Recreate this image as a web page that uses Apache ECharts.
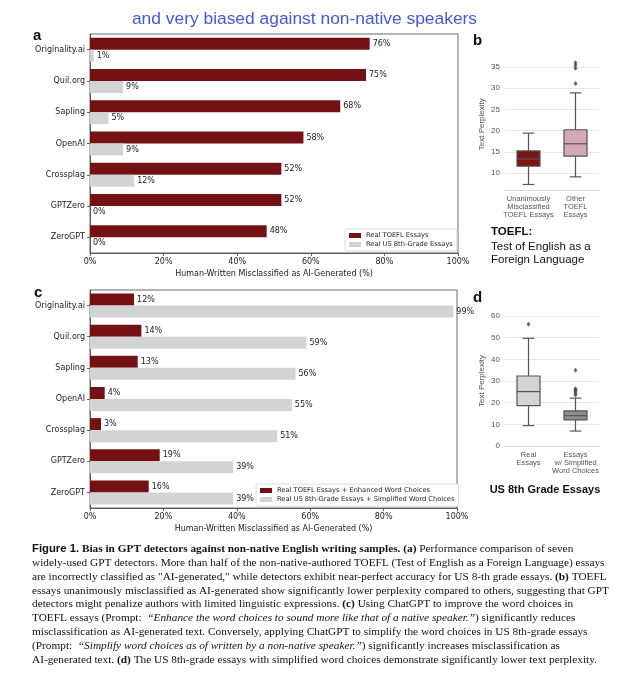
<!DOCTYPE html>
<html><head><meta charset="utf-8">
<script src="https://cdn.jsdelivr.net/npm/echarts@6/dist/echarts.min.js"></script>
<style>html,body{margin:0;padding:0;background:#fff}#c{width:638px;height:680px}</style>
</head><body><div id="c"></div>
<script>
// ---- data ----
const detectors = ['Originality.ai','Quil.org','Sapling','OpenAI','Crossplag','GPTZero','ZeroGPT'];
const aToefl = [76,75,68,58,52,52,48];
const aUS = [1,9,5,9,12,0,0];
const cToefl = [12,14,13,4,3,19,16];
const cUS = [99,59,56,55,51,39,39];

const bCats = ['Unanimously\nMisclassified\nTOEFL Essays','Other\nTOEFL\nEssays'];
// [min, q1, median, q3, max]
const bUnanimous = [7.3,11.6,13.3,15.2,19.4];
const bOther = [9.1,14.0,16.9,20.2,28.9];
const bOutliers = [[1,31.1],[1,34.7],[1,35.4],[1,36.0]];
const bTicks = [10,15,20,25,30,35];

const dCats = ['Real\nEssays','Essays\nw/ Simplified\nWord Choices'];
const dReal = [9.4,18.6,25.1,32.3,49.7];
const dSimplified = [6.9,12.1,14.0,16.2,22.1];
const dOutliers = [[0,56.2],[1,23.5],[1,24.3],[1,25.2],[1,25.9],[1,26.4],[1,35.0]];

const RED = '#731115', GRAY = '#d3d3d3';
const MPL = 'DejaVu Sans';
const SANS = 'Liberation Sans, Arial, sans-serif';

function barXAxis(gi){
  return {gridIndex:gi, type:'value', min:0, max:100, interval:20,
    name:'Human-Written Misclassified as AI-Generated (%)', nameLocation:'middle', nameGap:17,
    nameTextStyle:{fontFamily:MPL, fontSize:8, color:'#222'},
    axisLine:{show:true, lineStyle:{color:'#444', width:0.8}},
    axisTick:{show:true, length:3, lineStyle:{color:'#444', width:0.8}},
    axisLabel:{formatter:'{value}%', fontFamily:MPL, fontSize:8, color:'#222', margin:5},
    splitLine:{show:false}};
}
function barYAxis(gi){
  return {gridIndex:gi, type:'category', data:detectors, inverse:true,
    axisLine:{show:true, lineStyle:{color:'#444', width:0.8}},
    axisTick:{show:true, length:3, alignWithLabel:true, lineStyle:{color:'#444', width:0.8}},
    axisLabel:{fontFamily:MPL, fontSize:8, color:'#222', margin:5}};
}
function barSeries(name, data, color, gi){
  return {type:'bar', name:name, data:data, xAxisIndex:gi, yAxisIndex:gi,
    barWidth:12, barGap:'0%', itemStyle:{color:color},
    label:{show:true, position:'right', distance:3, formatter:'{c}%', fontFamily:MPL, fontSize:8, color:'#222'}};
}
function boxXAxis(gi, cats){
  return {gridIndex:gi, type:'category', data:cats,
    axisLine:{show:true, lineStyle:{color:'#d8d8d8', width:1}},
    axisTick:{show:false},
    axisLabel:{interval:0, fontFamily:SANS, fontSize:7.5, lineHeight:8, color:'#555', margin:5}};
}
function boxYAxis(gi, opts){
  return Object.assign({gridIndex:gi, type:'value',
    name:'Text Perplexity', nameLocation:'middle', nameGap:19, nameRotate:90,
    nameTextStyle:{fontFamily:SANS, fontSize:8, color:'#555'},
    axisLine:{show:false}, axisTick:{show:false},
    axisLabel:{fontFamily:SANS, fontSize:8, color:'#555', margin:5},
    splitLine:{show:true, lineStyle:{color:'#e6e6e6', width:1}}}, opts);
}
function boxRender(fills){
  return function(params, api){
    const x = api.value(0);
    const v = [api.value(1),api.value(2),api.value(3),api.value(4),api.value(5)];
    const p = v.map(function(val){ return api.coord([x, val]); });
    const cx = p[0][0];
    const bw = api.size([1,0])[0]*0.49;
    const cap = bw*0.5;
    const ls = {stroke:'#555', lineWidth:1.2};
    return {type:'group', children:[
      {type:'line', shape:{x1:cx,y1:p[0][1],x2:cx,y2:p[1][1]}, style:ls},
      {type:'line', shape:{x1:cx,y1:p[3][1],x2:cx,y2:p[4][1]}, style:ls},
      {type:'line', shape:{x1:cx-cap/2,y1:p[0][1],x2:cx+cap/2,y2:p[0][1]}, style:ls},
      {type:'line', shape:{x1:cx-cap/2,y1:p[4][1],x2:cx+cap/2,y2:p[4][1]}, style:ls},
      {type:'rect', shape:{x:cx-bw/2, y:p[3][1], width:bw, height:p[1][1]-p[3][1]},
        style:{fill:fills[params.dataIndex], stroke:'#555', lineWidth:1.2}},
      {type:'line', shape:{x1:cx-bw/2,y1:p[2][1],x2:cx+bw/2,y2:p[2][1]}, style:ls}
    ]};
  };
}

const chart = echarts.init(document.getElementById('c'), null, {renderer:'canvas'});

const captionLines = [
  '{fs|Figure 1.} {b|Bias in GPT detectors against non-native English writing samples.} {b|(a)} Performance comparison of seven',
  'widely-used GPT detectors. More than half of the non-native-authored TOEFL (Test of English as a Foreign Language) essays',
  'are incorrectly classified as "AI-generated," while detectors exhibit near-perfect accuracy for US 8-th grade essays. {b|(b)} TOEFL',
  'essays unanimously misclassified as AI-generated show significantly lower perplexity compared to others, suggesting that GPT',
  'detectors might penalize authors with limited linguistic expressions. {b|(c)} Using ChatGPT to improve the word choices in',
  'TOEFL essays (Prompt:  {i|\u201cEnhance the word choices to sound more like that of a native speaker.\u201d}) significantly reduces',
  'misclassification as AI-generated text. Conversely, applying ChatGPT to simplify the word choices in US 8th-grade essays',
  '(Prompt:  {i|\u201cSimplify word choices as of written by a non-native speaker.\u201d}) significantly increases misclassification as',
  'AI-generated text. {b|(d)} The US 8th-grade essays with simplified word choices demonstrate significantly lower text perplexity.'
];
const SERIF = 'Liberation Serif, Times New Roman, serif';
const CAPFS = 11.3;
const captionGraphics = captionLines.map(function(t, i){
  return {type:'text', left:32, top:543.5 + i*13.85, z:10,
    style:{text:t, fontFamily:SERIF, fontSize:CAPFS, fill:'#111',
      rich:{
        fs:{fontFamily:SANS, fontWeight:'bold', fontSize:CAPFS, fill:'#111'},
        b:{fontFamily:SERIF, fontWeight:'bold', fontSize:CAPFS, fill:'#111'},
        i:{fontFamily:SERIF, fontStyle:'italic', fontSize:CAPFS, fill:'#111'}
      }}};
});

const letter = function(t, x, y){
  return {type:'text', left:x, top:y, style:{text:t, fontFamily:SANS, fontWeight:'bold', fontSize:15, fill:'#111'}};
};
const legendBase = {orient:'vertical', itemWidth:12, itemHeight:5, itemGap:2, icon:'rect', padding:[3,4,3,4],
  borderColor:'#ddd', borderWidth:1, borderRadius:2, backgroundColor:'#fff',
  textStyle:{fontFamily:MPL, fontSize:6.7, color:'#222', padding:[0,0,0,0]}};

chart.setOption({
  animation:false,
  backgroundColor:'#fff',
  grid:[
    {left:90, top:34, width:368, height:219, show:true, borderColor:'#444', borderWidth:0.8, backgroundColor:'transparent'},
    {left:90, top:290, width:367, height:218, show:true, borderColor:'#444', borderWidth:0.8, backgroundColor:'transparent'},
    {left:505, top:58.5, width:94, height:131.5},
    {left:505, top:316, width:94, height:130}
  ],
  legend:[
    Object.assign({data:['Real TOEFL Essays','Real US 8th-Grade Essays'], left:345, top:229}, legendBase),
    Object.assign({data:['Real TOEFL Essays + Enhanced Word Choices','Real US 8th-Grade Essays + Simplified Word Choices'], left:256, top:484}, legendBase)
  ],
  xAxis:[barXAxis(0), barXAxis(1), boxXAxis(2, bCats), boxXAxis(3, dCats)],
  yAxis:[barYAxis(0), barYAxis(1),
    boxYAxis(2, {min:6, max:37, axisLabel:{fontFamily:SANS, fontSize:8, color:'#555', margin:5, customValues:bTicks}, axisTick:{show:false, customValues:bTicks}}),
    boxYAxis(3, {min:0, max:60, interval:10})
  ],
  series:[
    barSeries('Real TOEFL Essays', aToefl, RED, 0),
    barSeries('Real US 8th-Grade Essays', aUS, GRAY, 0),
    barSeries('Real TOEFL Essays + Enhanced Word Choices', cToefl, RED, 1),
    barSeries('Real US 8th-Grade Essays + Simplified Word Choices', cUS, GRAY, 1),
    {type:'custom', xAxisIndex:2, yAxisIndex:2, renderItem:boxRender(['#7b1317','#d4a8b8']),
      data:[[0].concat(bUnanimous),[1].concat(bOther)], encode:{x:0, y:[1,2,3,4,5]}, z:3},
    {type:'scatter', xAxisIndex:2, yAxisIndex:2, data:bOutliers, symbol:'diamond', symbolSize:[4,5], itemStyle:{color:'#444'}, z:4},
    {type:'custom', xAxisIndex:3, yAxisIndex:3, renderItem:boxRender(['#d4d4d4','#8d8d8d']),
      data:[[0].concat(dReal),[1].concat(dSimplified)], encode:{x:0, y:[1,2,3,4,5]}, z:3},
    {type:'scatter', xAxisIndex:3, yAxisIndex:3, data:dOutliers, symbol:'diamond', symbolSize:[4,5], itemStyle:{color:'#444'}, z:4}
  ],
  graphic:[
    {type:'text', x:304.5, y:19, z:20, style:{text:'and very biased against non-native speakers', align:'center', verticalAlign:'middle',
      fontFamily:SANS, fontSize:17.4, fill:'#4457da', stroke:'#fff', lineWidth:3,
      shadowColor:'rgba(0,0,0,0.35)', shadowBlur:3, shadowOffsetY:1}},
    letter('a', 33, 28), letter('b', 473, 33), letter('c', 34, 285), letter('d', 473, 290),
    {type:'text', left:491, top:226, style:{text:'TOEFL:', fontFamily:SANS, fontWeight:'bold', fontSize:11.5, fill:'#111'}},
    {type:'text', left:491, top:240, style:{text:'Test of English as a\nForeign Language', fontFamily:SANS, fontSize:11.5, lineHeight:13.5, fill:'#111'}},
    {type:'text', x:545, y:490, style:{text:'US 8th Grade Essays', align:'center', verticalAlign:'middle', fontFamily:SANS, fontWeight:'bold', fontSize:11, fill:'#111'}}
  ].concat(captionGraphics)
});
</script></body></html>
